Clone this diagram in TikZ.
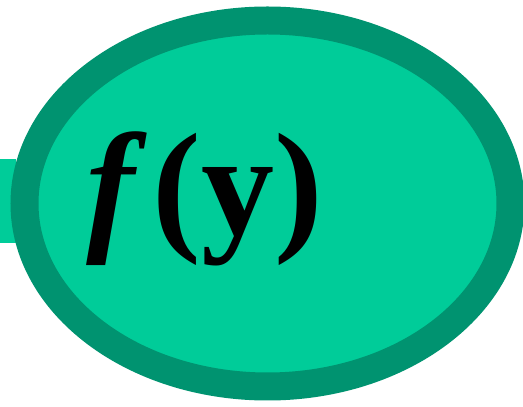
\documentclass[tikz,border=0pt]{standalone}
\usepackage{fontspec}
\setmainfont{Liberation Serif}
\definecolor{fillgreen}{RGB}{0,204,153}
\definecolor{edgegreen}{RGB}{0,147,112}
\begin{document}
\begin{tikzpicture}[x=1pt,y=1pt]
  \useasboundingbox (0,0) rectangle (523,407);
  \coordinate (C) at (267.5,203.5);
  \fill[fillgreen] (0,164) rectangle (16,248);
  \draw[line width=28pt,draw=edgegreen,fill=fillgreen] (C) ellipse [x radius=243,y radius=183];
  \node[anchor=base west,inner sep=0pt,font=\fontsize{146}{146}\selectfont\bfseries] (fy) at (86,172) {\textit{f}\kern6pt(y)};
\end{tikzpicture}
\end{document}
